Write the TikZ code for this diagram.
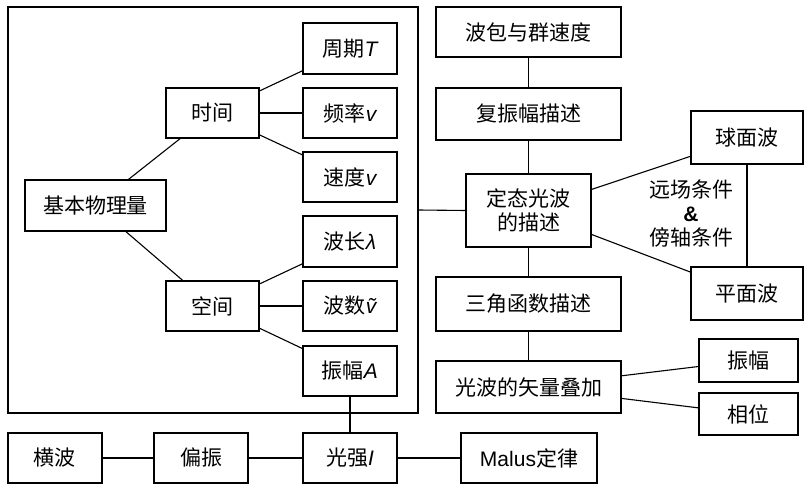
\documentclass[tikz,border=0pt]{standalone}
\usepackage{fontspec}
\setmainfont{Noto Sans CJK SC}
\newfontfamily\latinfont{Liberation Sans}
\newcommand{\varsym}[1]{{\latinfont\itshape #1}}

\tikzset{
	box/.style={draw, rectangle, line width=1.1pt, inner sep=0pt, align=center,
		minimum width=94pt, minimum height=50pt},
	link/.style={line width=1.1pt},
}

\begin{document}
\begin{tikzpicture}[x=1pt, y=-1pt, font=\fontsize{21}{24}\selectfont]
	\useasboundingbox (0,0) rectangle (804,487);
	% frame round the basic quantities
	\node (frame) [box, minimum width=410pt, minimum height=406pt] at (213,210) {};
	\node (jiben) [box, minimum width=141pt, minimum height=51pt] at (95.5,205.5) {基本物理量};
	\node (shijian) [box, minimum width=93pt] at (212.5,113) {时间};
	\node (kongjian) [box, minimum width=93pt] at (212.5,306) {空间};
	\node (zhouqi) [box, minimum height=51pt] at (350,48.5) {周期\varsym{T}};
	\node (pinlv) [box] at (350,113) {频率\varsym{v}};
	\node (sudu) [box] at (350,177) {速度\varsym{v}};
	\node (bochang) [box, minimum height=51pt] at (350,241.5) {波长\varsym{λ}};
	\node (boshu) [box] at (350,306) {波数\varsym{\~{v}}};
	\node (zhenfuA) [box] at (350,371) {振幅\varsym{A}};
	% bottom row
	\node (hengbo) [box] at (55,458) {横波};
	\node (pianzhen) [box] at (201,458) {偏振};
	\node (guangqiang) [box] at (350,458) {光强\varsym{I}};
	\node (malus) [box, minimum width=136pt] at (529,458) {{\latinfont Malus}定律};
	% right column
	\node (bobao) [box, minimum width=185pt] at (528.5,32) {波包与群速度};
	\node (fuzhenfu) [box, minimum width=185pt, minimum height=52pt] at (528.5,114) {复振幅描述};
	\node (dingtai) [box, minimum width=125pt, minimum height=73pt] at (528.5,210.5) {定态光波\\的描述};
	\node (sanjiao) [box, minimum width=185pt, minimum height=54pt] at (528.5,304) {三角函数描述};
	\node (shiliang) [box, minimum width=185pt, minimum height=52pt] at (528.5,387) {光波的矢量叠加};
	\node (qiumian) [box, minimum width=112pt, minimum height=53pt] at (747,137.5) {球面波};
	\node (pingmian) [box, minimum width=112pt, minimum height=53pt] at (747,293.5) {平面波};
	\node (zhenfu) [box, minimum width=99pt, minimum height=43pt] at (748.5,360.5) {振幅};
	\node (xiangwei) [box, minimum width=99pt, minimum height=42pt] at (748.5,414) {相位};
	\node (tiaojian) [align=center] at (691,214) {远场条件\\{\latinfont\bfseries\&}\\傍轴条件};

	\draw[link] (jiben) -- (shijian);
	\draw[link] (jiben) -- (kongjian);
	\draw[link] (shijian) -- (zhouqi);
	\draw[link] (shijian) -- (pinlv);
	\draw[link] (shijian) -- (sudu);
	\draw[link] (kongjian) -- (bochang);
	\draw[link] (kongjian) -- (boshu);
	\draw[link] (kongjian) -- (zhenfuA);
	\draw[link] (zhenfuA) -- (guangqiang);
	\draw[link] (hengbo) -- (pianzhen);
	\draw[link] (pianzhen) -- (guangqiang);
	\draw[link] (guangqiang) -- (malus);
	\draw[link] (frame.east) -- (dingtai.west);
	\draw[link] (bobao) -- (fuzhenfu);
	\draw[link] (fuzhenfu) -- (dingtai);
	\draw[link] (dingtai) -- (sanjiao);
	\draw[link] (sanjiao) -- (shiliang);
	\draw[link] (dingtai) -- (qiumian);
	\draw[link] (dingtai) -- (pingmian);
	\draw[link] (qiumian) -- (pingmian);
	\draw[link] (shiliang) -- (zhenfu);
	\draw[link] (shiliang) -- (xiangwei);
\end{tikzpicture}
\end{document}
